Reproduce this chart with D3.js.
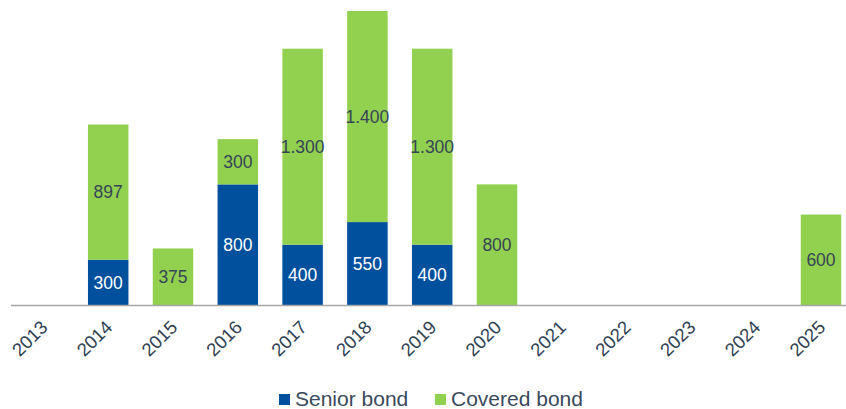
<!DOCTYPE html>
<html>
<head>
<meta charset="utf-8">
<script src="https://cdn.jsdelivr.net/npm/d3@7"></script>
<style>
  html, body { margin: 0; padding: 0; background: #fff; }
  svg { display: block; font-family: "Liberation Sans", Arial, sans-serif; }
</style>
</head>
<body>
<svg id="chart" width="846" height="409"></svg>
<script>
// Issuance maturity profile by year
const years = ["2013","2014","2015","2016","2017","2018","2019","2020","2021","2022","2023","2024","2025"];
const seniorBond  = [0, 300, 0, 800, 400, 550, 400, 0, 0, 0, 0, 0, 0];
const coveredBond = [0, 897, 375, 300, 1300, 1400, 1300, 800, 0, 0, 0, 0, 600];
const seriesNames = ["Senior bond", "Covered bond"];
const seriesColors = ["#00509E", "#92D050"];
const labelColors = ["#ffffff", "#364556"];

const svg = d3.select("#chart");
const baseline = 305;

const x = d3.scaleBand()
  .domain(years)
  .range([11, 853.4])
  .paddingInner(0.375)
  .paddingOuter(0.1875);

const y = d3.scaleLinear()
  .domain([0, 1950])
  .range([baseline, 11]);

const rows = years.map((yr, i) => ({ year: yr, "Senior bond": seniorBond[i], "Covered bond": coveredBond[i] }));
const stacked = d3.stack().keys(seriesNames)(rows);

const fmt = v => d3.format(",")(v).replace(/,/g, ".");

stacked.forEach((layer, li) => {
  const g = svg.append("g");
  g.selectAll("rect")
    .data(layer.filter(d => d[1] - d[0] > 0))
    .join("rect")
    .attr("x", d => x(d.data.year))
    .attr("y", d => y(d[1]))
    .attr("width", x.bandwidth())
    .attr("height", d => y(d[0]) - y(d[1]))
    .attr("fill", seriesColors[li]);

  g.selectAll("text")
    .data(layer.filter(d => d[1] - d[0] > 0))
    .join("text")
    .attr("x", d => x(d.data.year) + x.bandwidth() / 2)
    .attr("y", d => (y(d[0]) + y(d[1])) / 2)
    .attr("dy", "0.36em")
    .attr("text-anchor", "middle")
    .attr("font-size", 17.5)
    .attr("fill", labelColors[li])
    .text(d => fmt(d[1] - d[0]));
});

// Category axis
svg.append("line")
  .attr("x1", 11).attr("x2", 846)
  .attr("y1", baseline + 0.5).attr("y2", baseline + 0.5)
  .attr("stroke", "#A6A6A6").attr("stroke-width", 1.5);

svg.append("g")
  .selectAll("text")
  .data(years)
  .join("text")
  .attr("transform", d => `translate(${x(d) + x.bandwidth() / 2 - 4},${baseline + 14}) rotate(-45)`)
  .attr("text-anchor", "end")
  .attr("dy", "0.72em")
  .attr("font-size", 18.5)
  .attr("fill", "#2F4154")
  .text(d => d);

// Legend
const legendItems = [
  { name: seriesNames[0], color: seriesColors[0], x: 279 },
  { name: seriesNames[1], color: seriesColors[1], x: 435 }
];
const lg = svg.append("g");
legendItems.forEach(it => {
  lg.append("rect")
    .attr("x", it.x).attr("y", 394)
    .attr("width", 11).attr("height", 11)
    .attr("fill", it.color);
  lg.append("text")
    .attr("x", it.x + 16).attr("y", 406)
    .attr("font-size", 21)
    .attr("fill", "#3A4A5C")
    .text(it.name);
});
</script>
</body>
</html>
